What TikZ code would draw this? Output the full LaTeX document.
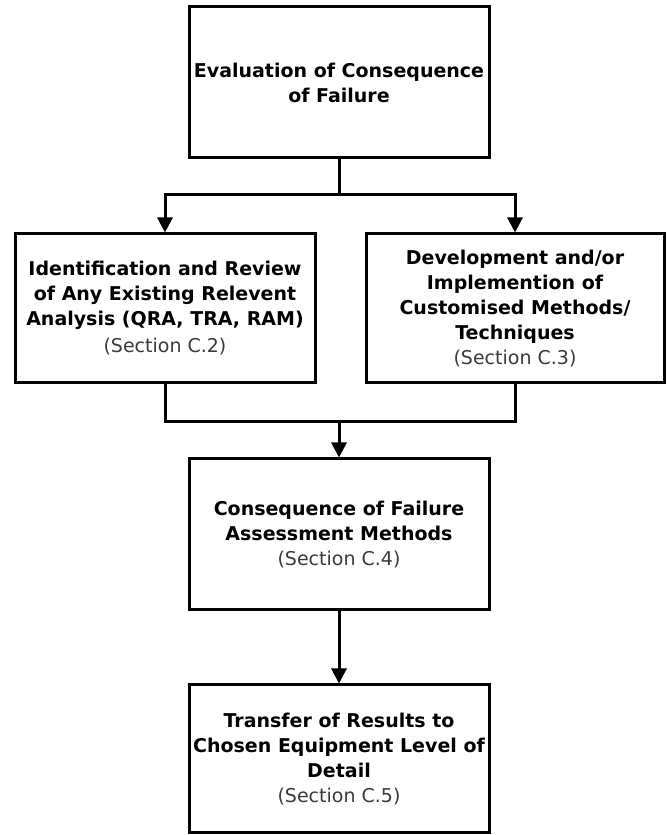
\documentclass[tikz,border=0pt]{standalone}
\usepackage{fontspec}
\setmainfont{DejaVu Sans}
\usetikzlibrary{arrows.meta}
\definecolor{sectgray}{HTML}{3A3A3A}
\begin{document}
\begin{tikzpicture}[x=1pt,y=1pt,
  stepbox/.style={draw=black, line width=3pt, fill=white, align=center,
    inner sep=0pt, font=\fontsize{19}{25}\selectfont\bfseries},
  link/.style={line width=3pt, line join=miter},
  flow/.style={link, -{Triangle[length=15pt,width=15pt]}},
  sect/.style={}]
  \useasboundingbox (0,0) rectangle (667,835);

  % process steps
  \node[stepbox, minimum width=300pt, minimum height=151pt] (eval) at (339,752.5)
    {Evaluation of Consequence\\of Failure};
  \node[stepbox, minimum width=300pt, minimum height=149pt] (ident) at (165,526.5)
    {Identification and Review\\of Any Existing Relevent\\Analysis (QRA, TRA, RAM)\\[2pt]
     {\mdseries\color{sectgray}(Section C.2)}};
  \node[stepbox, minimum width=298pt, minimum height=149pt] (devel) at (515,526.5)
    {Development and/or\\Implemention of\\Customised Methods/\\Techniques\\
     {\mdseries\color{sectgray}(Section C.3)}};
  \node[stepbox, minimum width=300pt, minimum height=151pt] (assess) at (339,300.5)
    {Consequence of Failure\\Assessment Methods\\
     {\mdseries\color{sectgray}(Section C.4)}};
  \node[stepbox, minimum width=300pt, minimum height=148pt] (transfer) at (339,76)
    {Transfer of Results to\\Chosen Equipment Level of\\Detail\\
     {\mdseries\color{sectgray}(Section C.5)}};

  % branching and merging points
  \coordinate (split) at (339,640);
  \coordinate (merge) at (339,413);

  % connectors
  \draw[link] (eval.south) -- (split);
  \draw[flow] (split) -| (ident.north);
  \draw[flow] (split) -| (devel.north);
  \draw[link] (ident.south) |- (merge);
  \draw[link] (devel.south) |- (merge);
  \draw[flow] (merge) -- (assess.north);
  \draw[flow] (assess.south) -- (transfer.north);
\end{tikzpicture}
\end{document}
